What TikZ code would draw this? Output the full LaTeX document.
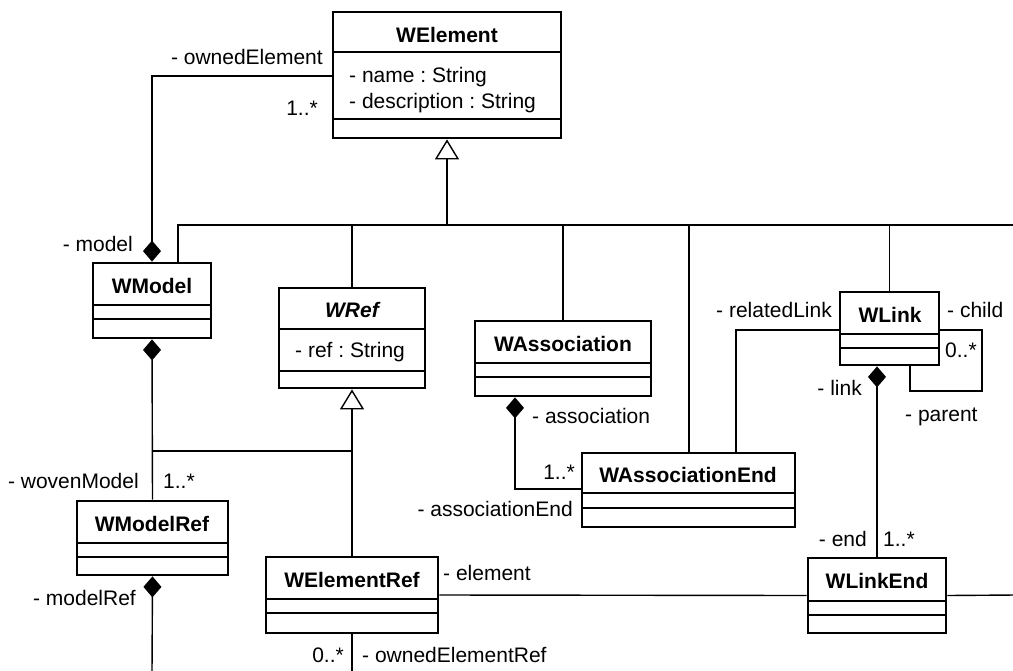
\documentclass[tikz,border=0pt]{standalone}
\usepackage{fontspec}
\setmainfont{Liberation Sans}
\usetikzlibrary{arrows.meta,fit}
\frenchspacing

\tikzset{
  clsframe/.style={draw, line width=2.8pt, inner sep=0pt, rectangle},
  divider/.style={line width=1.2pt},
  conn/.style={line width=1.4pt},
  compstart/.style={{Diamond[length=21pt,width=18pt]}-},
  compend/.style={-{Diamond[length=21pt,width=18pt]}},
  gen/.style={-{Triangle[open,length=20pt,width=24pt,fill=white]}},
  lbl/.style={inner sep=0pt, font=\fontsize{21}{25}\selectfont},
  ttl/.style={lbl, font=\fontsize{21}{25}\selectfont\bfseries, anchor=base},
}

% a class box: name, left, top, right, bottom, first and second divider
\newcommand\umlclass[7]{%
  \coordinate (#1-nw) at (#2,#3);
  \coordinate (#1-se) at (#4,#5);
  \draw[divider] (#2,#6) -- (#4,#6);
  \draw[divider] (#2,#7) -- (#4,#7);
  \node[clsframe, fit=(#1-nw)(#1-se)] (#1) {};
}

\begin{document}
\begin{tikzpicture}[x=1pt, y=-1pt]
\fill[white] (0,0) rectangle (1013,670);
\useasboundingbox (0,0) rectangle (1013,670);

% classes
\umlclass{welement}{333}{12}{561}{138}{52}{119}
\umlclass{wmodel}{93}{263}{211}{338}{305}{319}
\umlclass{wref}{279}{288}{425}{388}{329}{371}
\umlclass{wassoc}{475}{321}{651}{396}{363}{377}
\umlclass{wlink}{840}{292}{939}{365}{334}{348}
\umlclass{wassocend}{582}{453}{795}{527}{493}{508}
\umlclass{wmodelref}{77}{501}{228}{575}{543}{557}
\umlclass{welementref}{266}{557}{438}{633}{599}{613}
\umlclass{wlinkend}{808}{558}{946}{633}{601}{615}

% class names
\node[ttl] (t-welement) at (447,42) {WElement};
\node[ttl] (t-wmodel) at (152,293) {WModel};
\node[ttl, font=\fontsize{21}{25}\selectfont\bfseries\itshape] (t-wref) at (352,317) {WRef};
\node[ttl] (t-wassoc) at (563,351) {WAssociation};
\node[ttl] (t-wlink) at (890,322) {WLink};
\node[ttl] (t-wassocend) at (688,482) {WAssociationEnd};
\node[ttl] (t-wmodelref) at (152,531) {WModelRef};
\node[ttl] (t-welementref) at (352,587) {WElementRef};
\node[ttl] (t-wlinkend) at (877,588) {WLinkEnd};

% attributes
\node[lbl, anchor=base west] (a-name) at (349,82) {- name : String};
\node[lbl, anchor=base west] (a-desc) at (349,108) {- description : String};
\node[lbl, anchor=base west] (a-ref) at (295,357) {- ref : String};

% free ends leaving the drawing
\coordinate (busR) at (1016,225);
\coordinate (mrefend) at (152,673);
\coordinate (erefend) at (352,673);
\coordinate (lendout) at (1016,595);

% generalisation to WElement
\coordinate (busj) at (447,225);
\draw[conn, gen] (busj) -- (welement.south);
\draw[conn] (wmodel.north -| 178,0) |- (busR);
\draw[conn] (wref.north) -- (wref.north |- busR);
\draw[conn] (wassoc.north) -- (wassoc.north |- busR);
\draw[conn] (wassocend.north -| 689,0) -- (689,225);
\draw[conn] (wlink.north) -- (wlink.north |- busR);

% generalisation to WRef
\draw[conn, gen] (welementref.north) -- (wref.south);
\draw[conn] (wmodelref.north |- 0,451) -- (welementref.north |- 0,451);

% compositions
\draw[conn, compend] (welement.west |- 0,76) -| (wmodel.north);
\draw[conn, compstart] (wmodel.south) -- (wmodelref.north);
\draw[conn, compstart] (wmodelref.south) -- (mrefend);
\draw[conn, compstart] (wassoc.south -| 515,0) |- (wassocend.west |- 0,489);
\draw[conn, compstart] (wlink.south -| 877,0) -- (wlinkend.north);

% plain associations
\draw[conn] (welementref.south) -- (erefend);
\draw[conn] (welementref.east) -- (wlinkend.west);
\draw[conn] (wlinkend.east) -- (lendout);
\draw[conn] (wlink.west |- 0,330) -| (wassocend.north -| 736,0);
\draw[conn] (wlink.east |- 0,330) -| (982,391) -| (wlink.south -| 910,0);

% role names and multiplicities
\node[lbl, anchor=base east] (r-owned) at (323,64) {- ownedElement};
\node[lbl, anchor=base east] (m-owned) at (318,115) {1..*};
\node[lbl, anchor=base east] (r-model) at (133,251) {- model};
\node[lbl, anchor=base east] (r-woven) at (139,488) {- wovenModel};
\node[lbl, anchor=base west] (m-woven) at (163,488) {1..*};
\node[lbl, anchor=base east] (r-modelref) at (136,605) {- modelRef};
\node[lbl, anchor=base east] (m-ownedref) at (344,662) {0..*};
\node[lbl, anchor=base west] (r-ownedref) at (362,662) {- ownedElementRef};
\node[lbl, anchor=base west] (r-element) at (443,580) {- element};
\node[lbl, anchor=base west] (r-assoc) at (532,423) {- association};
\node[lbl, anchor=base east] (m-assocend) at (575,479) {1..*};
\node[lbl, anchor=base east] (r-assocend) at (573,516) {- associationEnd};
\node[lbl, anchor=base east] (r-related) at (832,317) {- relatedLink};
\node[lbl, anchor=base west] (r-child) at (947,317) {- child};
\node[lbl, anchor=base west] (m-child) at (945,357) {0..*};
\node[lbl, anchor=base east] (r-link) at (862,395) {- link};
\node[lbl, anchor=base west] (r-parent) at (905,421) {- parent};
\node[lbl, anchor=base east] (r-end) at (867,546) {- end};
\node[lbl, anchor=base west] (m-end) at (883,546) {1..*};
\end{tikzpicture}
\end{document}
